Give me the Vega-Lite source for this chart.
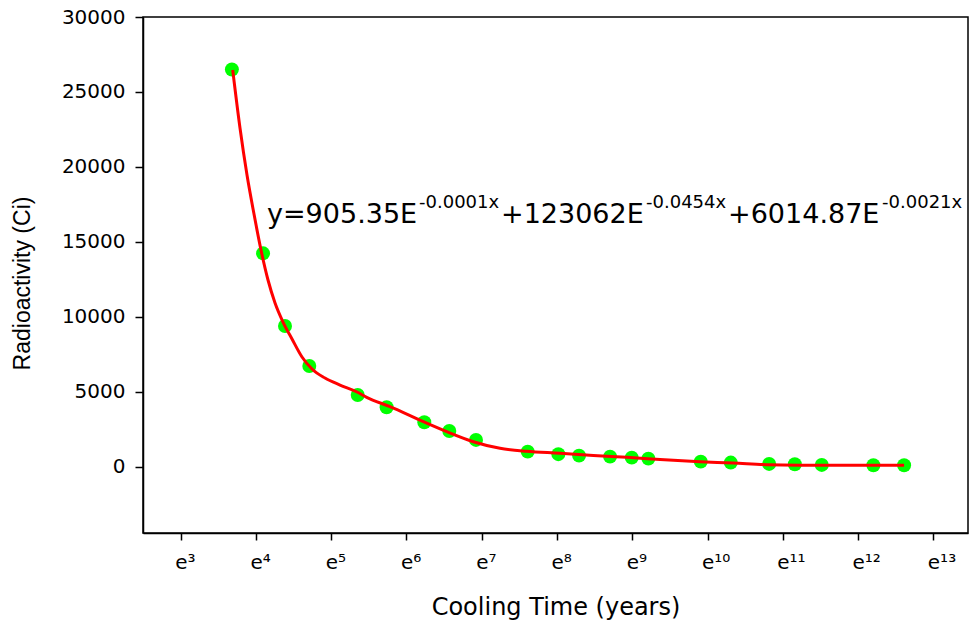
{
  "$schema": "https://vega.github.io/schema/vega-lite/v6.json",
  "width": 825,
  "height": 516,
  "autosize": {"type": "none"},
  "padding": {"left": 143, "top": 17, "right": 5, "bottom": 95},
  "background": "white",
  "config": {
    "view": {"stroke": "black", "strokeWidth": 1.5},
    "axis": {"domainColor": "black", "domainWidth": 1.5, "tickColor": "black", "tickWidth": 1.5, "labelColor": "black", "titleColor": "black", "grid": false, "titleFontWeight": "normal"}
  },
  "datasets": {
    "dots": [
      {"t": 39.65, "a": 26500}, {"t": 59.98, "a": 14230}, {"t": 80.3, "a": 9380}, {"t": 110.9, "a": 6710},
      {"t": 211.0, "a": 4780}, {"t": 309.8, "a": 3960}, {"t": 511.1, "a": 2960}, {"t": 712.6, "a": 2380},
      {"t": 1016, "a": 1780}, {"t": 2020, "a": 1000}, {"t": 3035, "a": 830}, {"t": 3996, "a": 733},
      {"t": 6035, "a": 667}, {"t": 8046, "a": 600}, {"t": 10037, "a": 533}, {"t": 20130, "a": 333},
      {"t": 30002, "a": 267}, {"t": 49946, "a": 180}, {"t": 70262, "a": 160}, {"t": 100517, "a": 113},
      {"t": 199587, "a": 93}, {"t": 300130, "a": 93}
    ],
    "curve": [
      {"t": 40.08, "a": 26463}, {"t": 44.16, "a": 22593}, {"t": 48.47, "a": 19457}, {"t": 53.19, "a": 16855},
      {"t": 58.38, "a": 14453}, {"t": 64.07, "a": 12451}, {"t": 70.34, "a": 10916}, {"t": 78.2, "a": 9648},
      {"t": 88.14, "a": 8514}, {"t": 100.66, "a": 7313}, {"t": 114.97, "a": 6512}, {"t": 136.65, "a": 5912},
      {"t": 166.79, "a": 5445}, {"t": 209.05, "a": 4978}, {"t": 237.8, "a": 4624}, {"t": 324.1, "a": 3997},
      {"t": 504.5, "a": 2996}, {"t": 689.0, "a": 2329}, {"t": 980.5, "a": 1661}, {"t": 1397.8, "a": 1221},
      {"t": 1994, "a": 1021}, {"t": 3105, "a": 888}, {"t": 4833, "a": 734}, {"t": 7532, "a": 621},
      {"t": 11718, "a": 474}, {"t": 19937, "a": 327}, {"t": 30945, "a": 240}, {"t": 48387, "a": 127},
      {"t": 75357, "a": 93}, {"t": 199600, "a": 87}, {"t": 300100, "a": 87}
    ],
    "eqMain": [
      {"t": 63.23, "a": 16275, "s": "y=905.35E"},
      {"t": 1416.9, "a": 16275, "s": "+123062E"},
      {"t": 28932, "a": 16275, "s": "+6014.87E"}
    ],
    "eqSup": [
      {"t": 476.6, "a": 17235, "s": "-0.0001x"},
      {"t": 9731, "a": 17235, "s": "-0.0454x"},
      {"t": 223935, "a": 17235, "s": "-0.0021x"}
    ]
  },
  "encoding": {
    "x": {
      "field": "t", "type": "quantitative",
      "scale": {"type": "log", "base": 2.718281828459045, "domain": [12.17, 701540], "nice": false},
      "axis": {
        "title": "Cooling Time (years)",
        "values": [20.0855, 54.5982, 148.4132, 403.4288, 1096.633, 2980.958, 8103.084, 22026.47, 59874.14, 162754.8, 442413.4],
        "labelExpr": "'e' + ['','','','³','⁴','⁵','⁶','⁷','⁸','⁹','¹⁰','¹¹','¹²','¹³'][round(log(datum.value))]",
        "tickSize": 7, "labelPadding": 12, "labelFont": "DejaVu Sans", "labelFontSize": 20,
        "labelAlign": "left", "labelOffset": -6, "labelFlush": false, "labelOverlap": false,
        "titleFont": "DejaVu Sans", "titleFontSize": 24, "titleY": 62, "titleBaseline": "top"
      }
    },
    "y": {
      "field": "a", "type": "quantitative",
      "scale": {"domain": [-4430, 30000], "nice": false, "zero": false},
      "axis": {
        "title": "Radioactivity (Ci)",
        "values": [0, 5000, 10000, 15000, 20000, 25000, 30000],
        "format": "d",
        "tickSize": 8, "labelPadding": 10, "labelFont": "DejaVu Sans", "labelFontSize": 20, "labelFlush": false,
        "titleFont": "Liberation Sans", "titleFontSize": 23, "titleX": -109, "titleY": 266, "titleBaseline": "bottom", "titleAlign": "center", "titleAngle": -90
      }
    }
  },
  "layer": [
    {"data": {"name": "dots"}, "mark": {"type": "point", "filled": true, "shape": "circle", "size": 195, "color": "#00ff00", "opacity": 1}, "encoding": {}},
    {"data": {"name": "curve"}, "mark": {"type": "line", "color": "#ff0000", "strokeWidth": 3, "interpolate": "monotone"}, "encoding": {}},
    {"data": {"name": "eqMain"}, "mark": {"type": "text", "align": "left", "baseline": "alphabetic", "font": "DejaVu Sans", "fontSize": 27, "color": "black"}, "encoding": {"text": {"field": "s"}}},
    {"data": {"name": "eqSup"}, "mark": {"type": "text", "align": "left", "baseline": "alphabetic", "font": "DejaVu Sans", "fontSize": 18, "color": "black"}, "encoding": {"text": {"field": "s"}}}
  ]
}
